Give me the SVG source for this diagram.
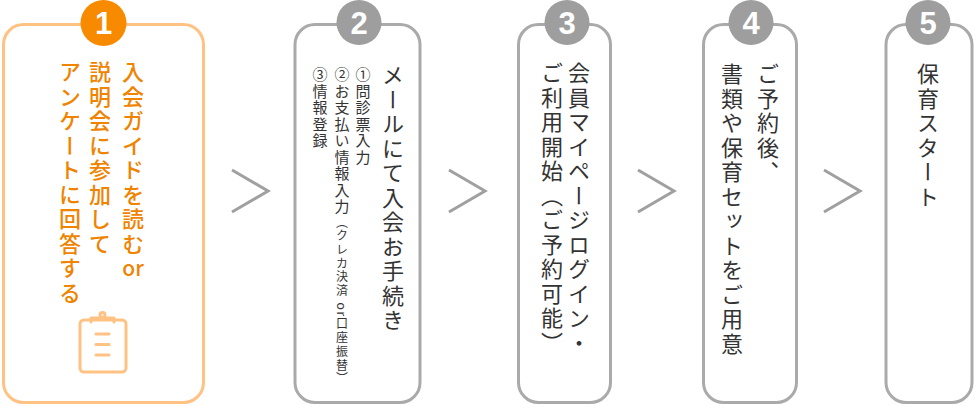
<svg xmlns="http://www.w3.org/2000/svg" width="974" height="406" viewBox="0 0 974 406">
<style>
.box{fill:#fff;stroke:#aaaaaa;stroke-width:3}
.box1{fill:#fff;stroke:#ffc283;stroke-width:3}
.num{fill:#fff;font-family:"Liberation Sans",Arial,sans-serif;font-weight:bold;font-size:31px;text-anchor:middle}
.chev{fill:none;stroke:#a0a0a0;stroke-width:3}
.v{writing-mode:vertical-rl;font-family:"Noto Sans CJK JP","Noto Sans",sans-serif;font-size:22px;letter-spacing:2.5px;fill:#333}
.o{fill:#f08300;font-weight:500}
.s{font-size:15px;letter-spacing:1.5px}
.xs{font-size:12px;letter-spacing:1.7px}
.icon{fill:none;stroke:#ffc283;stroke-width:3;stroke-linecap:round;stroke-linejoin:round}
</style>
<g id="connectors">
<polyline class="chev" points="232,170 268,191 232,212"/>
<polyline class="chev" points="449,170 485,191 449,212"/>
<polyline class="chev" points="638,170 674,191 638,212"/>
<polyline class="chev" points="824,170 860,191 824,212"/>
</g>
<g id="step1">
<rect class="box1" x="3.5" y="24.5" width="200" height="378" rx="20"/>
<circle cx="103.5" cy="23" r="23" fill="#f88a00"/>
<text class="num" x="103.5" y="34">1</text>
<text class="v o" x="133" y="61">入会ガイドを読む</text>
<text x="133" y="276" text-anchor="middle" font-family="Noto Sans CJK JP,Noto Sans,sans-serif" font-size="21" fill="#f08300" font-weight="500">or</text>
<text class="v o" x="100" y="61">説明会に参加して</text>
<text class="v o" x="70" y="61">アンケートに回答する</text>
<g class="icon">
<rect x="80" y="320" width="46" height="52" rx="4"/>
<path d="M91,322 V318 H114 V322"/>
<circle cx="102.5" cy="315" r="2.5"/>
<line x1="96" y1="334" x2="109" y2="334"/>
<line x1="96" y1="344.5" x2="109" y2="344.5"/>
<line x1="96" y1="355" x2="109" y2="355"/>
</g>
</g>
<g id="step2">
<rect class="box" x="295" y="24.5" width="125" height="378" rx="20"/>
<circle cx="359" cy="22.5" r="22.5" fill="#9e9e9e"/>
<text class="num" x="359" y="33.5">2</text>
<text class="v" x="393" y="64">メールにて入会お手続き</text>
<text class="v s" x="363" y="67">①問診票入力</text>
<text class="v s" x="342" y="67">②お支払い情報入力<tspan class="xs">（クレカ決済 or口座振替）</tspan></text>
<text class="v s" x="320" y="67">③情報登録</text>
</g>
<g id="step3">
<rect class="box" x="518.5" y="24.5" width="92" height="378" rx="20"/>
<circle cx="567" cy="22.5" r="22.5" fill="#9e9e9e"/>
<text class="num" x="567" y="33.5">3</text>
<text class="v" x="579" y="62">会員マイページログイン・</text>
<text class="v" x="552" y="62">ご利用開始（ご予約可能）</text>
</g>
<g id="step4">
<rect class="box" x="703.5" y="24.5" width="93" height="378" rx="20"/>
<circle cx="751" cy="22.5" r="22.5" fill="#9e9e9e"/>
<text class="num" x="751" y="33.5">4</text>
<text class="v" x="768" y="63">ご予約後、</text>
<text class="v" x="732" y="63">書類や保育セットをご用意</text>
</g>
<g id="step5">
<rect class="box" x="886" y="24.5" width="86" height="378" rx="20"/>
<circle cx="928" cy="22.5" r="22.5" fill="#9e9e9e"/>
<text class="num" x="928" y="33.5">5</text>
<text class="v" x="928" y="63">保育スタート</text>
</g>
</svg>
